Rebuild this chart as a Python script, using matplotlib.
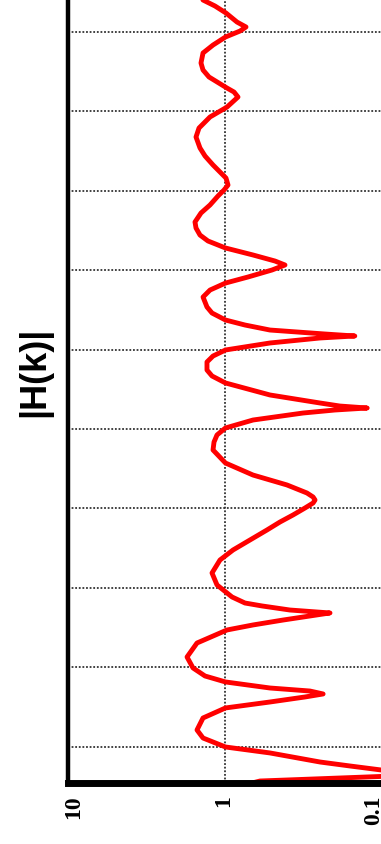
import matplotlib
matplotlib.use("Agg")
import matplotlib.pyplot as plt
from matplotlib.transforms import ScaledTranslation

# |H(k)|, k increasing upward (plot drawn rotated)
k_vals = [
    0.509, 0.572, 0.648, 0.711, 0.761, 0.811, 0.925, 1.000, 1.113, 1.214,
    1.365, 1.491, 1.566, 1.629, 1.667, 1.704, 1.742, 1.818, 1.893, 1.994,
    2.132, 2.308, 2.472, 2.535, 2.597, 2.648, 2.686, 2.723, 2.774, 2.811,
    2.887, 3.038, 3.189, 3.352, 3.478, 3.604, 3.730, 3.830, 3.918, 4.006,
    4.069, 4.107, 4.145, 4.195, 4.296, 4.421, 4.572, 4.736, 4.836, 4.925,
    5.013, 5.113, 5.201, 5.239, 5.264, 5.289, 5.327, 5.428, 5.579, 5.667,
    5.742, 5.843, 5.918, 5.994, 6.082, 6.145, 6.170, 6.195, 6.245, 6.308,
    6.371, 6.459, 6.535, 6.660, 6.748, 6.836, 6.912, 7.000, 7.063, 7.113,
    7.189, 7.277, 7.365, 7.440, 7.528, 7.604, 7.717, 7.818, 7.931, 8.006,
    8.069, 8.157, 8.233, 8.321, 8.434, 8.535, 8.673, 8.786, 8.925, 9.050,
    9.176, 9.239, 9.289, 9.428, 9.516, 9.604, 9.730, 9.830, 9.931, 10.006,
    10.057, 10.119, 10.233, 10.321, 10.396, 10.585,
]
h_vals = [
    0.809, 0.604, 0.058, 0.103, 0.162, 0.251, 0.522, 1.000, 1.389, 1.517,
    1.389, 1.000, 0.522, 0.313, 0.240, 0.291, 0.522, 1.000, 1.349, 1.608,
    1.755, 1.517, 0.978, 0.669, 0.431, 0.291, 0.217, 0.390, 0.586, 0.752,
    0.909, 1.132, 1.218, 1.084, 0.896, 0.699, 0.545, 0.451, 0.373, 0.313,
    0.278, 0.270, 0.278, 0.304, 0.407, 0.669, 1.000, 1.200, 1.183, 1.132,
    1.000, 0.669, 0.322, 0.202, 0.126, 0.188, 0.251, 0.522, 1.000, 1.218,
    1.311, 1.311, 1.200, 1.000, 0.522, 0.251, 0.151, 0.234, 0.522, 0.752,
    1.000, 1.218, 1.311, 1.389, 1.254, 1.000, 0.720, 0.507, 0.419, 0.485,
    0.669, 1.000, 1.292, 1.452, 1.539, 1.562, 1.431, 1.254, 1.116, 1.022,
    0.964, 0.993, 1.084, 1.200, 1.349, 1.452, 1.539, 1.473, 1.254, 0.978,
    0.833, 0.883, 0.978, 1.273, 1.389, 1.431, 1.389, 1.200, 1.000, 0.809,
    0.741, 0.845, 0.993, 1.166, 1.389, 1.495,
]

mag_ticks = [10, 1, 0.1]
mag_labels = ["10", "1", "0.1"]
k_grid = [1, 2, 3, 4, 5, 6, 7, 8, 9, 10]

W, H = 381, 844
fig = plt.figure(figsize=(W / 100, H / 100), dpi=100)
ax = fig.add_axes([68 / W, 61 / H, 315 / W, 808 / H])

ax.plot(h_vals, k_vals, color="#ff0000", lw=3.5, solid_joinstyle="round")

ax.set_xscale("log")
ax.set_xlim(10, 0.1)
ax.set_ylim(0.547, 10.711)
ax.set_xticks(mag_ticks)
ax.set_xticklabels(mag_labels, rotation=90, family="Liberation Serif",
                   fontsize=17, fontweight="bold")
ax.minorticks_off()
ax.set_yticks(k_grid)
ax.set_yticklabels([])
ax.tick_params(length=0, pad=9)

ax.grid(True, color="#333333", linestyle=(0, (1, 1)), lw=1.3)

for side in ["top", "right"]:
    ax.spines[side].set_visible(False)
ax.spines["left"].set_linewidth(3.2)
ax.spines["bottom"].set_linewidth(5)

# the labels sit a little off their ticks in the original
label_dx = [6, -2, -9]
for lab, dx in zip(ax.get_xticklabels(), label_dx):
    lab.set_transform(lab.get_transform() + ScaledTranslation(dx / 100, 0, fig.dpi_scale_trans))

fig.text(35 / W, 1 - 372 / H, "|H(k)|", rotation=90, ha="center", va="center",
         family="Liberation Sans", fontsize=26, fontweight="bold")

fig.savefig("out.png", dpi=100)
